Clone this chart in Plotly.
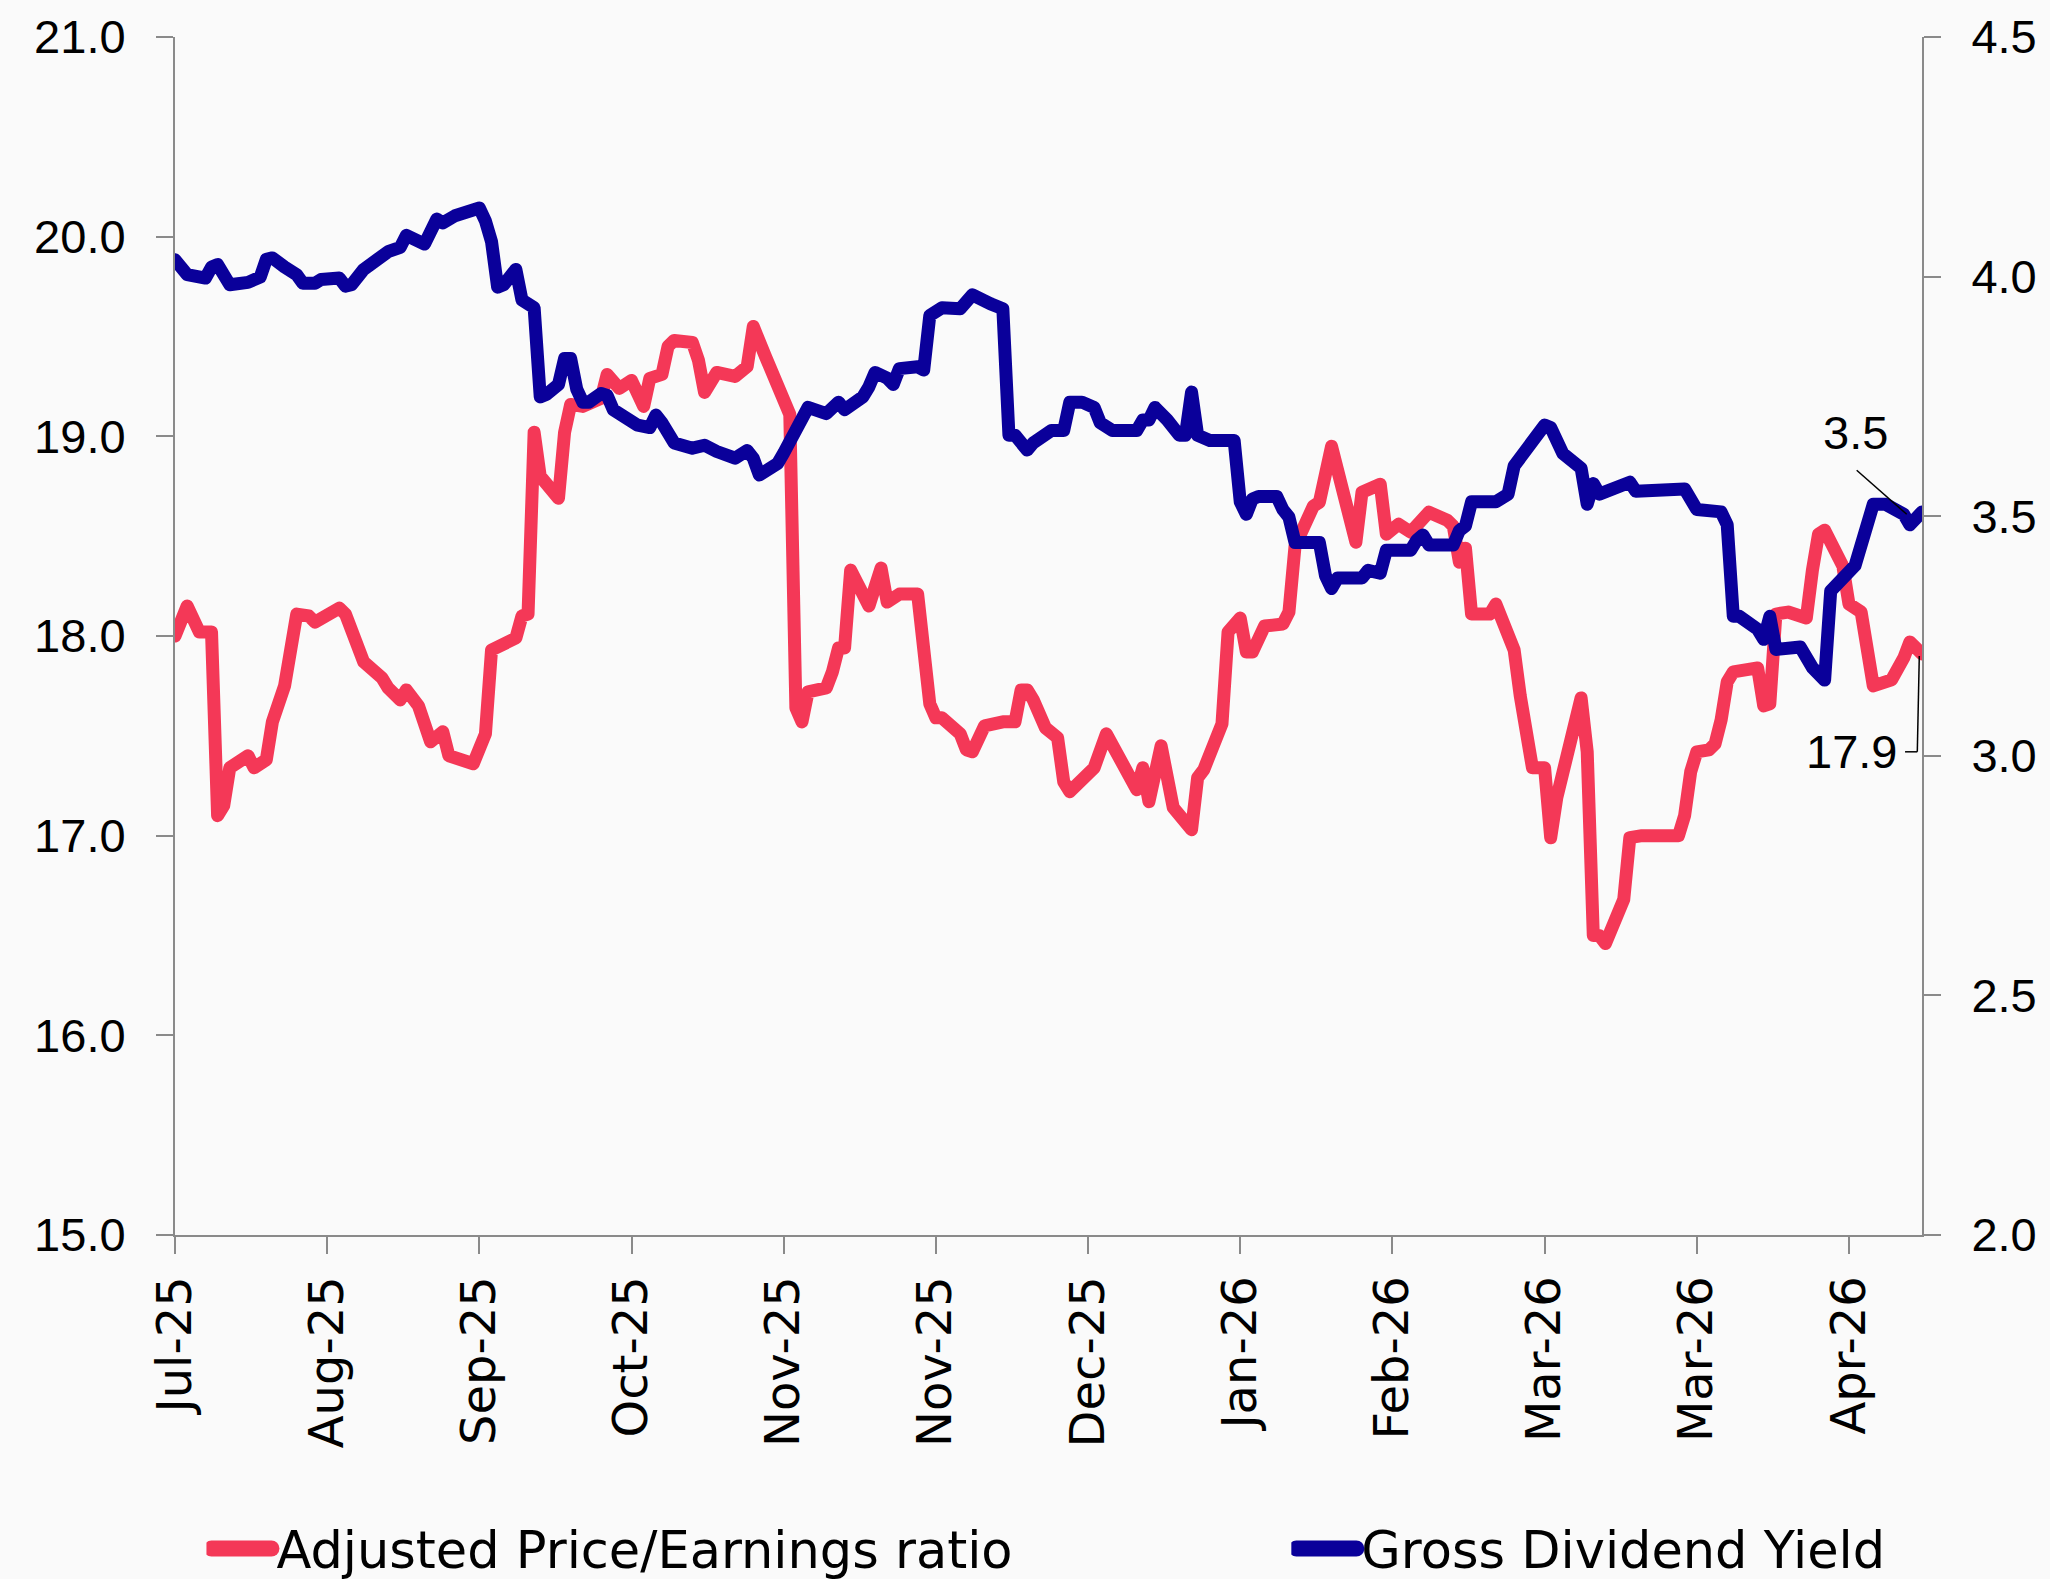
import pandas as pd
import plotly.graph_objects as go

# ---- data -------------------------------------------------------------
start_date = "2025-07-24"

# Adjusted Price/Earnings ratio (left axis): day offset from start, value
pe_days = [0, 2, 4, 6, 7, 8, 9, 12, 13, 15, 16, 18, 20, 22, 23, 27, 28, 31, 34, 35,
           37, 38, 40, 42, 44, 45, 49, 51, 52, 56, 57, 58, 59, 60, 63, 64, 65, 67, 70, 71,
           73, 75, 77, 78, 80, 81, 82, 85, 86, 87, 89, 92, 94, 95, 97, 100, 101, 102, 103, 104,
           107, 108, 109, 110, 111, 114, 116, 117, 119, 122, 124, 125, 126, 129, 130, 131, 133, 136, 138, 139,
           140, 141, 143, 145, 146, 147, 149, 151, 153, 154, 155, 158, 159, 160, 162, 164, 167, 168, 169, 172,
           173, 175, 176, 177, 179, 181, 182, 183, 184, 187, 188, 190, 194, 195, 198, 199, 201, 203, 204, 206,
           209, 210, 211, 212, 213, 216, 217, 219, 220, 221, 223, 225, 226, 227, 231, 232, 233, 234, 235, 238,
           239, 241, 247, 248, 249, 250, 252, 253, 254, 255, 256, 260, 261, 262, 263, 265, 268, 269, 270, 271,
           274, 275, 277, 279, 282, 284, 285, 287]
pe_values = [18.00, 18.15, 18.02, 18.02, 17.10, 17.15, 17.34, 17.40, 17.34, 17.38, 17.57, 17.75, 18.11, 18.10, 18.07, 18.14, 18.11, 17.87, 17.79, 17.74,
             17.68, 17.73, 17.65, 17.47, 17.52, 17.40, 17.36, 17.51, 17.93, 17.99, 18.10, 18.11, 19.02, 18.80, 18.69, 19.02, 19.16, 19.15, 19.19, 19.31,
             19.24, 19.28, 19.15, 19.29, 19.31, 19.45, 19.48, 19.47, 19.38, 19.22, 19.32, 19.30, 19.35, 19.55, 19.40, 19.21, 19.11, 17.64, 17.57, 17.72,
             17.74, 17.82, 17.94, 17.94, 18.33, 18.15, 18.34, 18.17, 18.21, 18.21, 17.66, 17.59, 17.59, 17.51, 17.43, 17.42, 17.55, 17.57, 17.57, 17.73,
             17.73, 17.68, 17.54, 17.49, 17.27, 17.22, 17.28, 17.34, 17.51, 17.45, 17.41, 17.23, 17.34, 17.17, 17.45, 17.14, 17.03, 17.29, 17.33, 17.56,
             18.02, 18.09, 17.92, 17.92, 18.05, 18.06, 18.06, 18.12, 18.45, 18.65, 18.67, 18.95, 18.47, 18.72, 18.76, 18.51, 18.56, 18.52, 18.56, 18.62,
             18.58, 18.55, 18.37, 18.44, 18.11, 18.11, 18.16, 18.01, 17.93, 17.70, 17.34, 17.34, 16.99, 17.19, 17.69, 17.42, 16.50, 16.50, 16.46, 16.68,
             16.99, 17.00, 17.00, 17.10, 17.32, 17.42, 17.43, 17.46, 17.58, 17.77, 17.82, 17.84, 17.65, 17.66, 18.11, 18.12, 18.09, 18.33, 18.51, 18.53,
             18.35, 18.16, 18.12, 17.75, 17.78, 17.89, 17.97, 17.91]

# Gross Dividend Yield (right axis): day offset from start, value
dy_days = [0, 2, 5, 6, 7, 9, 12, 14, 15, 16, 18, 20, 21, 23, 24, 27, 28, 29, 31, 33,
           35, 37, 38, 41, 43, 44, 46, 50, 51, 52, 53, 54, 56, 57, 59, 60, 61, 63, 64, 65,
           66, 67, 68, 70, 71, 72, 76, 78, 79, 80, 81, 82, 85, 87, 89, 92, 94, 95, 96, 99,
           100, 102, 104, 107, 109, 110, 113, 114, 115, 117, 118, 119, 122, 123, 124, 126, 129, 131, 132, 134,
           136, 137, 138, 139, 140, 141, 144, 146, 147, 149, 151, 152, 153, 154, 158, 159, 160, 161, 163, 165,
           166, 167, 168, 170, 174, 175, 176, 177, 178, 181, 182, 183, 184, 188, 189, 190, 191, 195, 196, 198,
           199, 203, 204, 205, 206, 210, 211, 212, 213, 217, 219, 220, 225, 226, 228, 231, 232, 233, 234, 235,
           239, 240, 248, 250, 254, 255, 256, 257, 260, 261, 262, 263, 267, 269, 271, 272, 274, 276, 279, 281,
           284, 285, 287]
dy_values = [4.035, 4.004, 3.997, 4.020, 4.025, 3.983, 3.988, 3.999, 4.036, 4.039, 4.020, 4.004, 3.986, 3.986, 3.994, 3.997, 3.980, 3.983, 4.015, 4.036,
             4.052, 4.061, 4.086, 4.068, 4.120, 4.112, 4.127, 4.143, 4.116, 4.073, 3.978, 3.983, 4.015, 3.951, 3.935, 3.749, 3.754, 3.775, 3.829, 3.829,
             3.765, 3.738, 3.738, 3.756, 3.752, 3.722, 3.690, 3.685, 3.711, 3.695, 3.679, 3.653, 3.642, 3.648, 3.635, 3.621, 3.637, 3.621, 3.586, 3.610,
             3.632, 3.679, 3.727, 3.714, 3.738, 3.722, 3.749, 3.770, 3.800, 3.788, 3.775, 3.808, 3.812, 3.805, 3.919, 3.935, 3.933, 3.962, 3.958, 3.943,
             3.933, 3.669, 3.669, 3.648, 3.638, 3.653, 3.679, 3.679, 3.738, 3.738, 3.727, 3.695, 3.690, 3.679, 3.679, 3.701, 3.701, 3.727, 3.701, 3.669,
             3.669, 3.759, 3.669, 3.658, 3.658, 3.530, 3.504, 3.536, 3.541, 3.541, 3.514, 3.498, 3.445, 3.445, 3.376, 3.349, 3.371, 3.371, 3.387, 3.381,
             3.429, 3.429, 3.450, 3.461, 3.440, 3.440, 3.470, 3.480, 3.530, 3.530, 3.546, 3.605, 3.690, 3.685, 3.631, 3.600, 3.525, 3.568, 3.546, 3.552,
             3.571, 3.552, 3.557, 3.514, 3.509, 3.482, 3.291, 3.291, 3.264, 3.243, 3.291, 3.222, 3.227, 3.184, 3.158, 3.344, 3.371, 3.397, 3.525, 3.525,
             3.504, 3.482, 3.509]

tick_dates = ["2025-07-24", "2025-08-18", "2025-09-12", "2025-10-07", "2025-11-01", "2025-11-26",
              "2025-12-21", "2026-01-15", "2026-02-09", "2026-03-06", "2026-03-31", "2026-04-25"]

pe_name = "Adjusted Price/Earnings ratio"
dy_name = "Gross Dividend Yield"

# ---- styling ----------------------------------------------------------
RED = "#F43857"
BLUE = "#0A009A"
AXIS = "#8A8A8A"
BG = "#FAFAFA"
TEXT_FONT = "DejaVu Sans"
NUM_FONT = "Liberation Sans"
LINE_W = 13

t0 = pd.Timestamp(start_date)
pe_x = t0 + pd.to_timedelta(pe_days, unit="D")
dy_x = t0 + pd.to_timedelta(dy_days, unit="D")
x_end = t0 + pd.Timedelta(days=max(pe_days[-1], dy_days[-1]))

fig = go.Figure()
fig.add_trace(go.Scatter(x=pe_x, y=pe_values, name=pe_name, mode="lines",
                         line=dict(color=RED, width=LINE_W), yaxis="y", legend="legend"))
fig.add_trace(go.Scatter(x=dy_x, y=dy_values, name=dy_name, mode="lines",
                         line=dict(color=BLUE, width=LINE_W), yaxis="y2", legend="legend2"))

axis_common = dict(showline=True, linecolor=AXIS, linewidth=2, ticks="outside",
                   ticklen=17, tickwidth=2, tickcolor=AXIS, showgrid=False,
                   zeroline=False, automargin=False)

legend_common = dict(orientation="h", xanchor="left", y=-0.262, yanchor="middle",
                     font=dict(family=TEXT_FONT, size=51, color="black"),
                     itemwidth=60, bgcolor="rgba(0,0,0,0)", borderwidth=0)

fig.update_layout(
    width=2050, height=1579,
    margin=dict(l=175, r=128, t=37, b=344, autoexpand=False),
    paper_bgcolor=BG, plot_bgcolor=BG,
    template="none",
    showlegend=True,
    xaxis=dict(type="date", range=[t0, x_end], tickvals=tick_dates, tickformat="%b-%y",
               tickangle=-90, ticklabelstandoff=3,
               tickfont=dict(family=TEXT_FONT, size=48, color="black"), **axis_common),
    yaxis=dict(range=[15, 21], dtick=1, tickformat=".1f", ticklabelstandoff=21,
               tickfont=dict(family=NUM_FONT, size=47, color="black"), **axis_common),
    yaxis2=dict(range=[2, 4.5], dtick=0.5, tickformat=".1f", overlaying="y", side="right",
                ticklabelstandoff=21,
                tickfont=dict(family=NUM_FONT, size=47, color="black"), **axis_common),
    legend=dict(x=0.018, **legend_common),
    legend2=dict(x=0.639, **legend_common),
)

# end-value labels with leader lines
fig.add_annotation(text=f"{dy_values[-1]:.1f}", xref="paper", yref="y2", x=0.9621, y=3.674,
                   showarrow=False, xanchor="center", yanchor="middle",
                   font=dict(family=NUM_FONT, size=47, color="black"))
fig.add_shape(type="line", xref="paper", yref="y2", x0=0.96262, y0=3.596, x1=0.99124, y1=3.504,
              line=dict(color="black", width=1.5))

fig.add_annotation(text=f"{pe_values[-1]:.1f}", xref="paper", yref="y", x=0.9598, y=17.42,
                   showarrow=False, xanchor="center", yanchor="middle",
                   font=dict(family=NUM_FONT, size=47, color="black"))
fig.add_shape(type="line", xref="paper", yref="y", x0=0.9903, y0=17.42, x1=0.99731, y1=17.42,
              line=dict(color="black", width=1.5))
fig.add_shape(type="line", xref="paper", yref="y", x0=0.99731, y0=17.42, x1=0.99845, y1=17.90,
              line=dict(color="black", width=1.5))

# rounded line joins, and thick legend swatches
round_lines = """
var s = document.createElement('style');
s.innerHTML = '.js-line {stroke-linejoin: round; stroke-linecap: round;} ' +
              '.legendlines path {stroke-width: 16px !important; stroke-linecap: round;}';
document.head.appendChild(s);
"""
fig.write_html("out.html", post_script=round_lines)
